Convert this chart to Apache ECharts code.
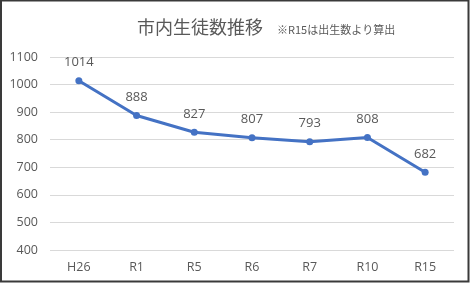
<!DOCTYPE html>
<html><head><meta charset="utf-8">
<script src="https://cdn.jsdelivr.net/npm/echarts@6/dist/echarts.min.js"></script>
<style>html,body{margin:0;padding:0;background:#fff}#c{width:470px;height:283px}</style>
</head><body><div id="c"></div>
<script>
const titleText = '市内生徒数推移';
const noteText = '※R15は出生数より算出';
const categories = ['H26','R1','R5','R6','R7','R10','R15'];
const students = [1014, 888, 827, 807, 793, 808, 682];
const yTicks = [400, 500, 600, 700, 800, 900, 1000, 1100];

const chart = echarts.init(document.getElementById('c'));
const font = '"Open Sans", "Noto Sans CJK JP", sans-serif';
chart.setOption({
  animation: false,
  backgroundColor: '#fff',
  graphic: [
    {type:'rect', shape:{x:1, y:0.5, width:467.5, height:281}, style:{fill:'none', stroke:'#3a3a3a', lineWidth:2}, z:100},
    {type:'text', x:137, y:27, style:{text:titleText, font:'18px "Noto Sans CJK JP"', fill:'#595959', textVerticalAlign:'middle'}},
    {type:'text', x:277, y:30, style:{text:noteText, font:'11px "Noto Sans CJK JP"', fill:'#595959', textVerticalAlign:'middle'}}
  ],
  grid: {left:50, right:16, top:57, bottom:33, containLabel:false},
  xAxis: {
    type:'category', data:categories, boundaryGap:true,
    axisLine:{show:false}, axisTick:{show:false},
    axisLabel:{color:'#595959', fontSize:12.5, fontFamily:font, margin:11}
  },
  yAxis: {
    type:'value', min:yTicks[0], max:yTicks[yTicks.length-1], interval:100,
    axisLine:{show:false}, axisTick:{show:false},
    axisLabel:{color:'#595959', fontSize:12.5, fontFamily:font, margin:12, formatter:v => String(v)},
    splitLine:{lineStyle:{color:'#d9d9d9', width:1}}
  },
  series: [{
    type:'line', data:students,
    symbol:'circle', symbolSize:7,
    lineStyle:{color:'#4472C4', width:3},
    itemStyle:{color:'#4472C4'},
    label:{show:true, position:'top', distance:8, color:'#595959', fontSize:13, fontFamily:font}
  }]
});
</script></body></html>
